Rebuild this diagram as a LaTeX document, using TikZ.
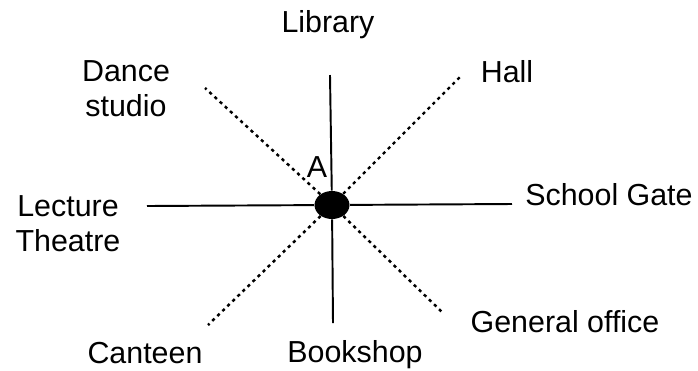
\documentclass[tikz,border=0pt]{standalone}
\usepackage{fontspec}
\setmainfont{Liberation Sans}
\usepackage{tikz}
\usetikzlibrary{
	positioning,
	shapes.geometric
}

\begin{document}
\begin{tikzpicture}[
			x=0.02cm, y=-0.02cm,
			font=\fontsize{17.3}{20}\selectfont,
			place/.style={inner sep=0pt, anchor=base},
			placetwo/.style={inner sep=0pt, align=center, anchor=north},
			road/.style={line width=1.1pt},
			footway/.style={line width=1.4pt, dash pattern=on 1.8pt off 2.2pt},
			hub/.style={ellipse, fill=black, minimum width=0.7cm, minimum height=0.56cm, inner sep=0pt}
		]
		\useasboundingbox (0,0) rectangle (698,370);

		% centre point and ends of the paths
		\node[hub] (dot) at (332,205) {};
		\coordinate (top) at (330,75);
		\coordinate (bottom) at (333,323);
		\coordinate (left) at (147,206);
		\coordinate (right) at (512,204);
		\coordinate (nw) at (205,88);
		\coordinate (ne) at (462,75);
		\coordinate (sw) at (208,325);
		\coordinate (se) at (443,313);

		\draw[road] (dot) -- (top);
		\draw[road] (dot) -- (bottom);
		\draw[road] (dot) -- (left);
		\draw[road] (dot) -- (right);
		\draw[footway] (dot) -- (nw);
		\draw[footway] (dot) -- (ne);
		\draw[footway] (dot) -- (sw);
		\draw[footway] (dot) -- (se);

		% labels
		\node[place] (ptA) at (317,177) {A};
		\node[place] (lib) at (328,32) {Library};
		\node[place] (hall) at (507,82) {Hall};
		\node[place, anchor=base west] (gate) at (525,205) {School Gate};
		\node[place] (office) at (565,332) {General office};
		\node[place] (shop) at (355,362) {Bookshop};
		\node[place] (cant) at (145,363) {Canteen};
		\node[placetwo] (dance) at (126,60) {Dance\\ studio};
		\node[placetwo] (lect) at (68,195) {Lecture\\ Theatre};
	\end{tikzpicture}
\end{document}
